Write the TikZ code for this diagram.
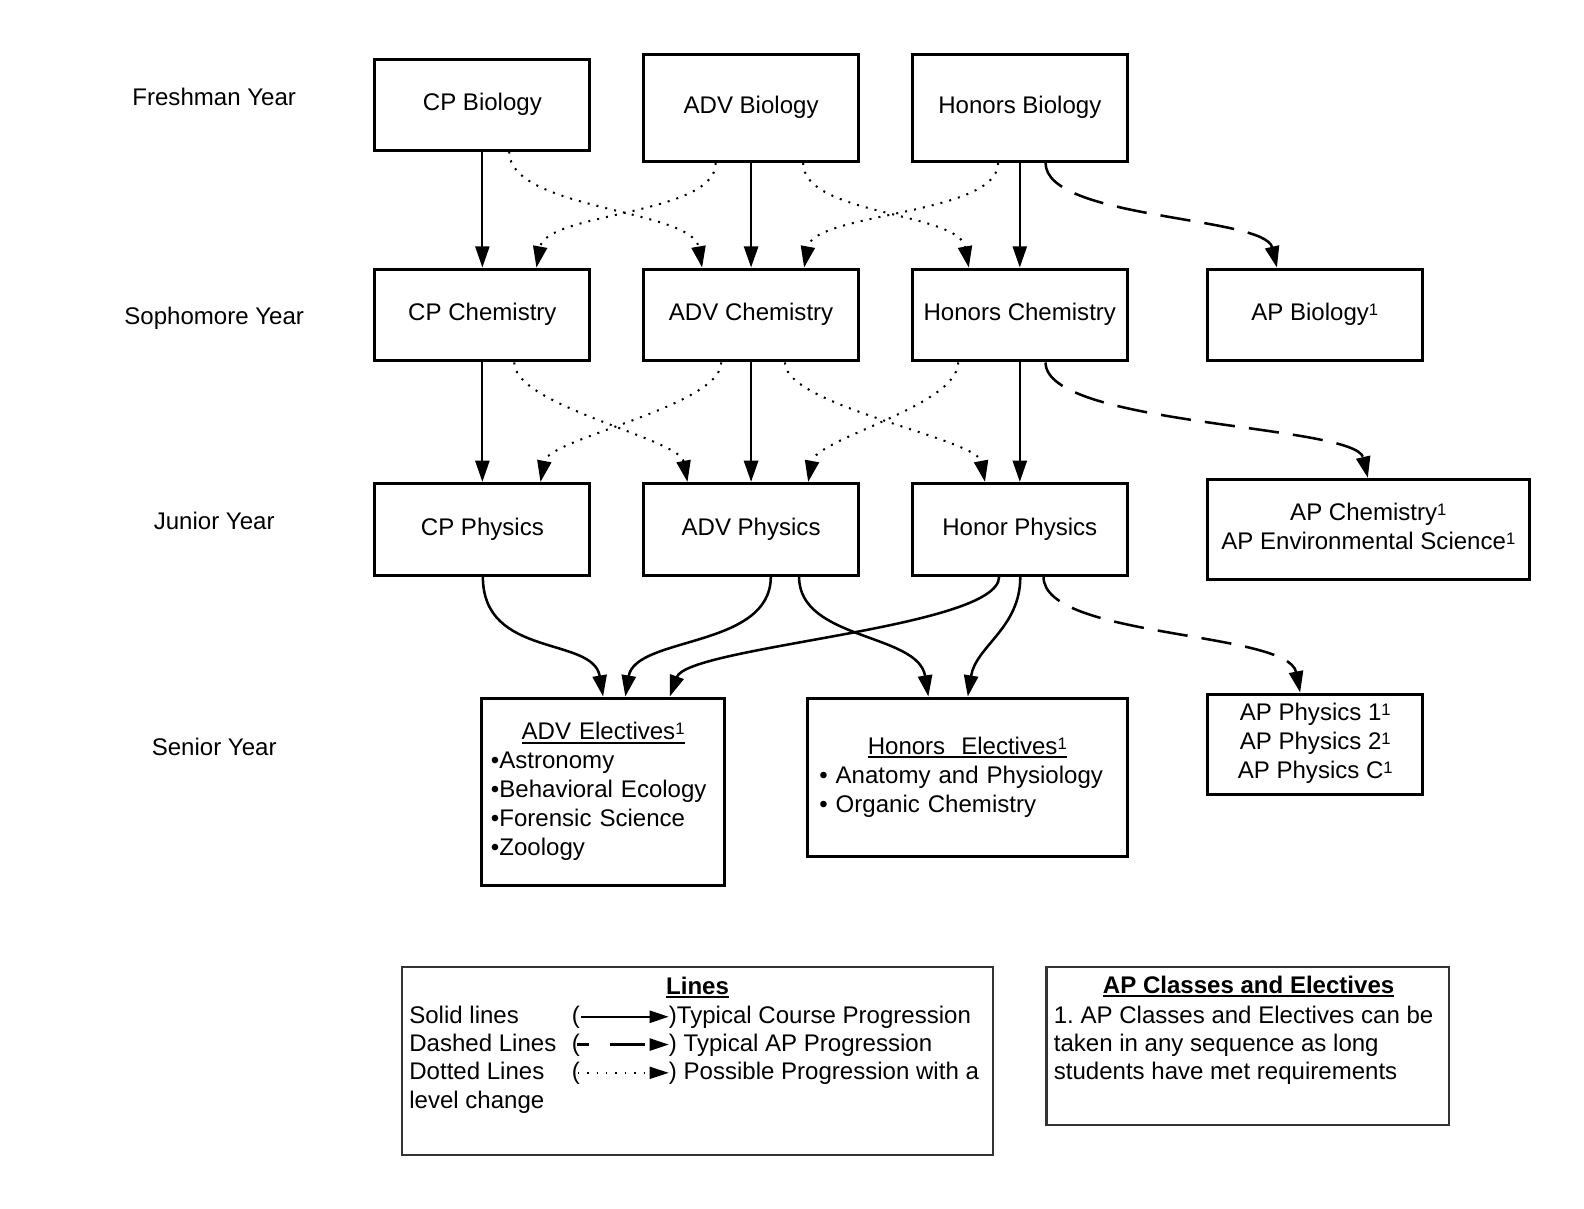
\documentclass[tikz,border=0pt]{standalone}
\usepackage{fontspec}
\setmainfont{Liberation Sans}
\usetikzlibrary{arrows.meta}
\frenchspacing
\newcommand\bodyfs{\fontsize{23.8}{28.7}\selectfont}
\newcommand\supone{\raisebox{5pt}{\fontsize{16.5}{16.5}\selectfont 1}}
\newsavebox\ulbox
\newcommand\myul[2][1.6pt]{\sbox\ulbox{#2}\rlap{\rule[-3.8pt]{\wd\ulbox}{#1}}\usebox\ulbox}
\begin{document}
\begin{tikzpicture}[x=1pt,y=-1pt,
  crs/.style={draw, line width=3pt, minimum width=213pt, minimum height=91pt, inner sep=0pt, font=\bodyfs, align=center},
  legbox/.style={draw=black!80, line width=2.2pt, inner sep=0pt},
  txt/.style={font=\bodyfs, inner sep=0pt, anchor=base},
  ltxt/.style={font=\bodyfs, inner sep=0pt, anchor=base west},
  tipA/.style={-{Triangle[length=21pt,width=14pt]}},
  tipL/.style={-{Triangle[length=19pt,width=12pt]}},
  solidarr/.style={tipA, line width=2pt},
  dotarr/.style={tipA, line width=2pt, dash pattern=on 2pt off 7pt},
  dasharr/.style={tipA, line width=2.5pt, dash pattern=on 30pt off 14pt},
  curvarr/.style={tipA, line width=2.5pt},
]
\useasboundingbox (0,0) rectangle (1568,1196);

% year labels
\node[txt] (y1) at (212,104.4) {Freshman Year};
\node[txt] (y2) at (212,321.4) {Sophomore Year};
\node[txt] (y3) at (212,524.4) {Junior Year};
\node[txt] (y4) at (212,747.4) {Senior Year};

% course boxes
\node[crs, minimum height=90pt] (cpbio) at (477.5,103.5) {\strut CP Biology};
\node[crs, minimum height=106pt] (advbio) at (743.5,106.8) {\strut ADV Biology};
\node[crs, minimum height=106pt] (honbio) at (1009.5,106.8) {\strut Honors Biology};

\node[crs] (cpchem) at (477.5,311.8) {\strut CP Chemistry};
\node[crs] (advchem) at (743.5,311.8) {\strut ADV Chemistry};
\node[crs] (honchem) at (1009.5,311.8) {\strut Honors Chemistry};
\node[crs] (apbio) at (1301.5,311.8) {\strut AP Biology\supone};

\node[crs] (cpphys) at (477.5,524) {\strut CP Physics};
\node[crs] (advphys) at (743.5,524) {\strut ADV Physics};
\node[crs] (honphys) at (1009.5,524) {\strut Honor Physics};
\node[crs, minimum width=319pt, minimum height=99pt] (apchem) at (1354.5,524)
  {\strut AP Chemistry\supone\\AP Environmental Science\supone\strut};

\node[crs, minimum width=240pt, minimum height=186pt, text width=222pt, align=left] (adve) at (597,784)
  {\makebox[222pt][c]{\strut\myul{ADV Electives\supone}}\\%
   •Astronomy\\•Behavioral Ecology\\•Forensic Science\\•Zoology\strut};
\node[crs, minimum width=317pt, minimum height=157pt, text width=293pt, align=left] (hone) at (957.5,769.5)
  {\makebox[293pt][c]{\strut\myul{Honors\ \ Electives\supone}}\\%
   • Anatomy and Physiology\\• Organic Chemistry\strut};
\node[crs, minimum height=99pt] (apphys) at (1302,736.5)
  {\strut AP Physics 1\supone\\AP Physics 2\supone\\AP Physics C\supone\strut};

% Biology -> Chemistry
\draw[solidarr] (cpbio.south) -- (cpchem.north);
\draw[solidarr, line width=2.6pt] (advbio.south) -- (advchem.north);
\draw[solidarr] (honbio.south) -- (honchem.north);
\draw[dotarr] ([xshift=26.5pt]cpbio.south) .. controls +(0,58) and +(-10,-58) .. ([xshift=-48.5pt]advchem.north);
\draw[dotarr] ([xshift=-35pt]advbio.south) .. controls +(0,52) and +(10,-55) .. ([xshift=53.5pt]cpchem.north);
\draw[dotarr] ([xshift=51.5pt]advbio.south) .. controls +(0,52) and +(-10,-55) .. ([xshift=-50.5pt]honchem.north);
\draw[dotarr] ([xshift=-21.5pt]honbio.south) .. controls +(0,52) and +(10,-55) .. ([xshift=52.5pt]advchem.north);
\draw[dasharr] ([xshift=25.5pt]honbio.south) .. controls +(0,56) and +(-12,-51) .. ([xshift=-37.5pt]apbio.north);

% Chemistry -> Physics
\draw[solidarr] (cpchem.south) -- (cpphys.north);
\draw[solidarr, line width=2.6pt] (advchem.south) -- (advphys.north);
\draw[solidarr] (honchem.south) -- (honphys.north);
\draw[dotarr] ([xshift=31.5pt]cpchem.south) .. controls +(0,43) and +(-8,-43) .. ([xshift=-63pt]advphys.north);
\draw[dotarr] ([xshift=-29.5pt]advchem.south) .. controls +(0,43) and +(8,-43) .. ([xshift=57.5pt]cpphys.north);
\draw[dotarr] ([xshift=33.5pt]advchem.south) .. controls +(0,43) and +(-8,-43) .. ([xshift=-34.5pt]honphys.north);
\draw[dotarr] ([xshift=-61pt]honchem.south) .. controls +(0,43) and +(8,-43) .. ([xshift=56.5pt]advphys.north);
\draw[dasharr] ([xshift=25.5pt]honchem.south) .. controls +(0,63) and +(-12,-53) .. ([xshift=-0.5pt]apchem.north);

% Physics -> Senior
\draw[curvarr] ([xshift=0.5pt]cpphys.south) .. controls +(0,81) and +(-10,-60) .. (adve.north);
\draw[curvarr] ([xshift=19.5pt]advphys.south) .. controls +(0,71) and +(10,-60) .. ([xshift=22pt]adve.north);
\draw[curvarr] ([xshift=47.5pt]advphys.south) .. controls +(0,63) and +(-10,-63) .. ([xshift=-38.5pt]hone.north);
\draw[curvarr] ([xshift=-20.5pt]honphys.south) .. controls +(0,51) and +(18,-50) .. ([xshift=66pt]adve.north);
\draw[curvarr] ([xshift=0.5pt]honphys.south) .. controls +(0,51) and +(8,-50) .. ([xshift=0.5pt]hone.north);
\draw[dasharr] ([xshift=23.5pt]honphys.south) .. controls +(0,61) and +(-12,-61) .. ([xshift=-15pt]apphys.north);

% Legend: Lines
\node[legbox, minimum width=585pt, minimum height=186pt] (leg) at (690.5,1050) {};
\node[txt, font=\bodyfs\bfseries] (legt) at (690.5,984.4) {\myul[2.2pt]{Lines}};
\node[ltxt] (l1a) at (405,1013) {Solid lines};
\node[ltxt] (l1b) at (566,1013) {(};
\coordinate (l1s) at (575,1006.5);
\coordinate (l1e) at (662,1006.5);
\draw[tipL, line width=2.2pt] (l1s) -- (l1e);
\node[ltxt] (l1c) at (662,1013) {)Typical Course Progression};

\node[ltxt] (l2a) at (405,1040.5) {Dashed Lines};
\node[ltxt] (l2b) at (566,1040.5) {(};
\coordinate (l2s) at (571,1034);
\coordinate (l2e) at (662,1034);
\draw[tipL, line width=2.2pt, dash pattern=on 34pt off 21pt, dash phase=22pt] (l2s) -- (l2e);
\node[ltxt] (l2c) at (662,1040.5) {) Typical AP Progression};

\node[ltxt] (l3a) at (405,1068.5) {Dotted Lines};
\node[ltxt] (l3b) at (566,1068.5) {(};
\coordinate (l3s) at (572,1062);
\coordinate (l3e) at (662,1062);
\draw[tipL, line width=1.3pt, dash pattern=on 1.3pt off 8pt] (l3s) -- (l3e);
\node[ltxt] (l3c) at (662,1068.5) {) Possible Progression with a};
\node[ltxt] (l4a) at (405,1097) {level change};

% Legend: AP classes
\node[legbox, minimum width=398pt, minimum height=157pt] (apc) at (1235,1035.5) {};
\node[txt, font=\bodyfs\bfseries] (apct) at (1236,983.4) {\myul[2.2pt]{AP Classes and Electives}};
\node[ltxt] (apc1) at (1043,1013) {1. AP Classes and Electives can be};
\node[ltxt] (apc2) at (1043,1040.5) {taken in any sequence as long};
\node[ltxt] (apc3) at (1043,1068.5) {students have met requirements};
\end{tikzpicture}
\end{document}
